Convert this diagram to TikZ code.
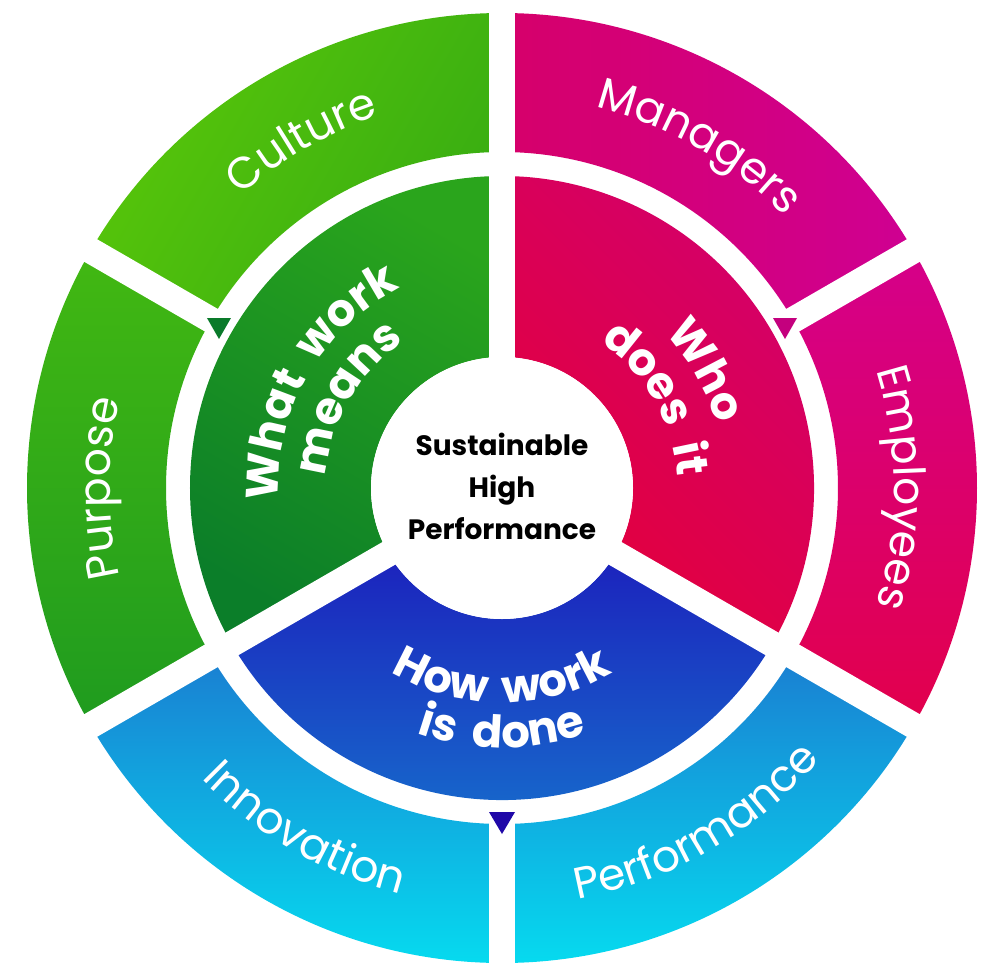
\documentclass[tikz,border=0pt]{standalone}
\usepackage{fontspec}
\setmainfont{Poppins}
\usetikzlibrary{decorations.text}

\definecolor{cultureA}{HTML}{58C60A}
\definecolor{cultureB}{HTML}{38AD12}
\definecolor{purposeA}{HTML}{42B812}
\definecolor{purposeB}{HTML}{1F9B1F}
\definecolor{meansA}{HTML}{2AA51C}
\definecolor{meansB}{HTML}{0B7E29}
\definecolor{managersA}{HTML}{D6006A}
\definecolor{managersB}{HTML}{CF0092}
\definecolor{employeesA}{HTML}{D5008A}
\definecolor{employeesB}{HTML}{E2004C}
\definecolor{whoA}{HTML}{E4003A}
\definecolor{whoB}{HTML}{D2006E}
\definecolor{howA}{HTML}{1C22BD}
\definecolor{howB}{HTML}{1670CD}
\definecolor{cyanA}{HTML}{1A7FD2}
\definecolor{cyanB}{HTML}{06DAEF}
\definecolor{triGreen}{HTML}{0A7A2A}
\definecolor{triPink}{HTML}{C4007E}
\definecolor{triBlue}{HTML}{2008A8}

\begin{document}
\begin{tikzpicture}
				[x=1pt,y=1pt,
					ringsector/.style n args={4}{insert path={(#1:#3) arc[start angle=#1,end angle=#2,radius=#3]
					  -- (#2:#4) arc[start angle=#2,end angle=#1,radius=#4] -- cycle}},
					gapline/.style={white,line width=26pt},
					tri/.style={fill=#1},
					outerlabel/.style={decorate,decoration={text along path,text align=center,text color=white,
					  text={|\fontsize{44}{50}\selectfont|#1}}},
					innerlabel/.style={decorate,decoration={text along path,text align=center,text color=white,
					  text={|\fontsize{45}{50}\selectfont\bfseries|#1}}}]
				\useasboundingbox (-502,-482) rectangle (498,488);
				% outer ring
				\shade[ringsector={90}{150}{475}{336},top color=cultureA,bottom color=cultureB,shading angle=60];
				\shade[ringsector={150}{210}{475}{336},top color=purposeA,bottom color=purposeB];
				\shade[ringsector={30}{90}{475}{336},top color=managersA,bottom color=managersB,shading angle=90];
				\shade[ringsector={-30}{30}{475}{336},top color=employeesA,bottom color=employeesB];
				\shade[ringsector={210}{270}{475}{336},top color=cyanA,bottom color=cyanB];
				\shade[ringsector={270}{330}{475}{336},top color=cyanA,bottom color=cyanB];
				% inner ring
				\shade[ringsector={90}{210}{312}{131},top color=meansA,bottom color=meansB,shading angle=-30];
				\shade[ringsector={-30}{90}{312}{131},top color=whoA,bottom color=whoB,shading angle=135];
				\shade[ringsector={210}{330}{312}{131},top color=howA,bottom color=howB];
				% gaps
				\foreach \a in {90,210,330}
					\draw[gapline] (0,0) -- (\a:485);
				\foreach \a in {30,150,270}
					\draw[gapline] (\a:320) -- (\a:485);
				\fill[white] (0,0) circle[radius=131];
				% markers
				\coordinate (markMeans) at (-283,170);
				\coordinate (markWho) at (283,170);
				\coordinate (markHow) at (0,-324);
				\fill[tri=triGreen] (markMeans) ++(-12,0) -- ++(24,0) -- ++(-12,-21) -- cycle;
				\fill[tri=triPink] (markWho) ++(-12,0) -- ++(24,0) -- ++(-12,-21) -- cycle;
				\fill[tri=triBlue] (markHow) ++(-13,0) -- ++(26,0) -- ++(-13,-22) -- cycle;
				% labels
				\path[outerlabel=Culture] (165:392) arc[start angle=165,end angle=75,radius=392];
				\path[outerlabel=Managers] (105:392) arc[start angle=105,end angle=15,radius=392];
				\path[outerlabel=Purpose] (225:392) arc[start angle=225,end angle=135,radius=392];
				\path[outerlabel=Employees] (45:392) arc[start angle=45,end angle=-45,radius=392];
				\path[outerlabel=Innovation] (195:418) arc[start angle=195,end angle=285,radius=418];
				\path[outerlabel=Performance] (255:418) arc[start angle=255,end angle=345,radius=418];
				\path[innerlabel=What{\kern18pt}work] (200:224) arc[start angle=200,end angle=100,radius=224];
				\path[innerlabel=means] (200:176) arc[start angle=200,end angle=100,radius=176];
				\path[innerlabel=Who] (80:224) arc[start angle=80,end angle=-20,radius=224];
				\path[innerlabel=does{\kern18pt}it] (80:176) arc[start angle=80,end angle=-20,radius=176];
				\path[innerlabel=How{\kern18pt}work] (220:215) arc[start angle=220,end angle=320,radius=215];
				\path[innerlabel=is{\kern18pt}done] (220:260) arc[start angle=220,end angle=320,radius=260];
				\node (core) [align=center,font=\fontsize{28}{42}\selectfont\bfseries] at (0,2)
				  {Sustainable\\High\\Performance};
			\end{tikzpicture}
\end{document}
